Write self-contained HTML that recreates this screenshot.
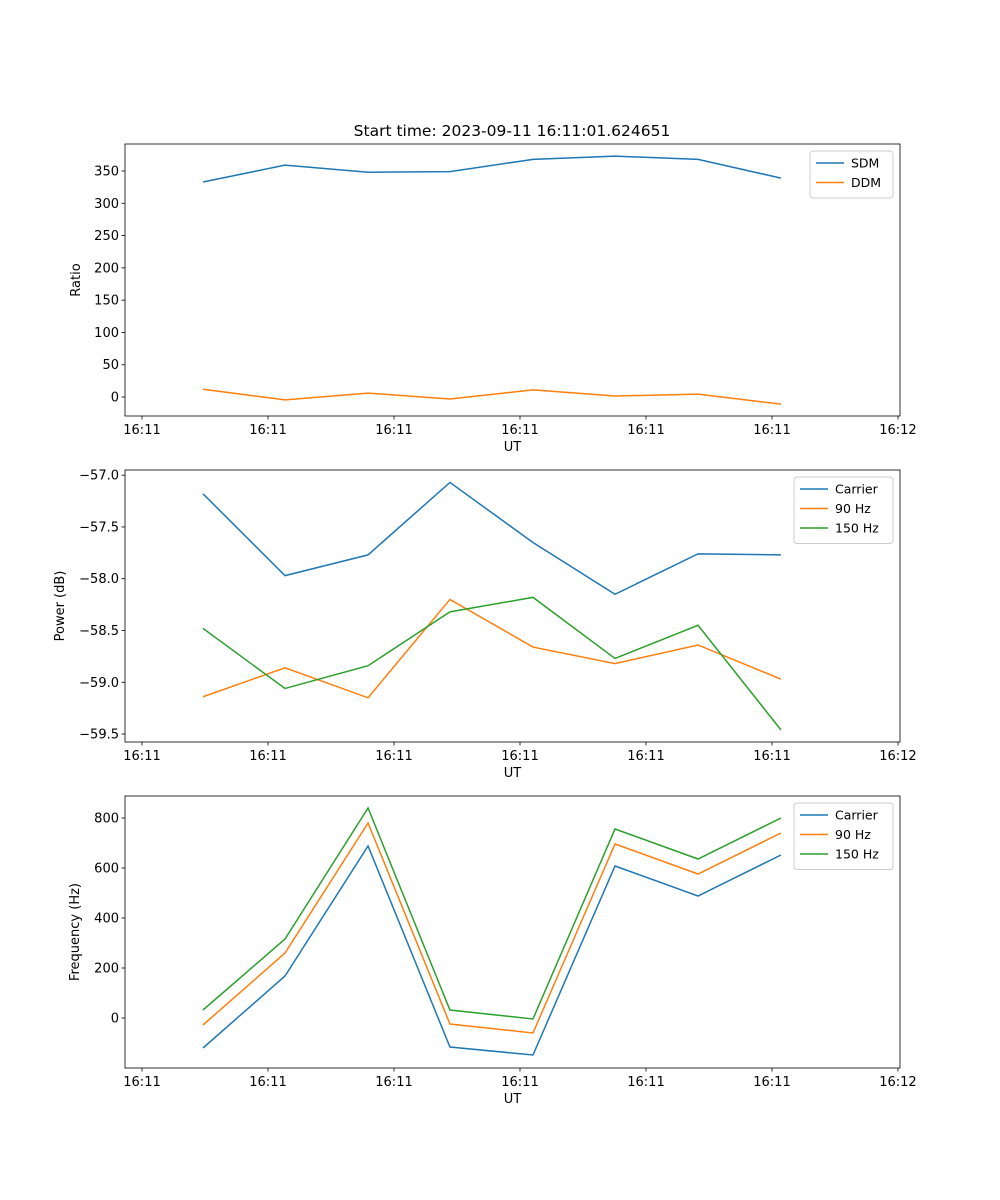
<!DOCTYPE html>
<html><head><meta charset="utf-8"><style>
body{margin:0;background:#fff;}
svg{display:block;font-family:"DejaVu Sans","Liberation Sans",sans-serif;}
</style></head><body>
<svg id="fig" width="1000" height="1200" xmlns="http://www.w3.org/2000/svg">
<text x="512" y="136" text-anchor="middle" font-size="15.5">Start time: 2023-09-11 16:11:01.624651</text>
</svg>
<script>
const times=[4.84,11.35,17.94,24.44,31.03,37.54,44.13,50.71];
const xTickVals=[0,10,20,30,40,50,60];
const xTickLabels=["16:11","16:11","16:11","16:11","16:11","16:11","16:12"];
const sdm=[333,359,348,349,368,373,368,339];
const ddm=[12,-4.5,6,-3,11,1.5,4.5,-11];
const pwrCarrier=[-57.18,-57.97,-57.77,-57.07,-57.65,-58.15,-57.76,-57.77];
const pwr90=[-59.14,-58.86,-59.15,-58.20,-58.66,-58.82,-58.64,-58.97];
const pwr150=[-58.48,-59.06,-58.84,-58.32,-58.18,-58.77,-58.45,-59.46];
const frqCarrier=[-120,168,688,-116,-148,608,488,652];
const frq90=[-28,260,780,-24,-60,696,576,740];
const frq150=[32,316,840,32,-4,756,636,800];
const ratioTicks=[0,50,100,150,200,250,300,350];
const powerTicks=[-59.5,-59.0,-58.5,-58.0,-57.5,-57.0];
const powerTickLabels=["\u221259.5","\u221259.0","\u221258.5","\u221258.0","\u221257.5","\u221257.0"];
const freqTicks=[0,200,400,600,800];

const NS="http://www.w3.org/2000/svg";
const svg=document.getElementById('fig');
const C=["#1f77b4","#ff7f0e","#2ca02c"];
function mk(tag,attrs,parent){const e=document.createElementNS(NS,tag);for(const k in attrs)e.setAttribute(k,attrs[k]);(parent||svg).appendChild(e);return e;}
const L=125,R=900,xMin=-1.35,xMax=60.16;
const xs=t=>L+(t-xMin)/(xMax-xMin)*(R-L);

function panel(name,top,bot,yMin,yMax,yTicks,yLabels,ylab,ylabX,series,names,legW){
  const g=mk('g',{});
  
  
  const ys=v=>bot-(v-yMin)/(yMax-yMin)*(bot-top);
  series.forEach((s,i)=>{
    const p=mk('polyline',{points:s.map((v,j)=>xs(times[j])+','+ys(v)).join(' '),fill:'none',stroke:C[i],'stroke-width':1.5},g);
    
    
  });
  const fr=mk('rect',{x:L,y:top,width:R-L,height:bot-top,fill:'none',stroke:'#000','stroke-width':0.8},g);
  
  
  xTickVals.forEach((t,i)=>{
    const x=xs(t);
    mk('line',{x1:x,x2:x,y1:bot,y2:bot+3.5,stroke:'#000','stroke-width':0.8},g);
    const tx=mk('text',{x:x,y:bot+18,'text-anchor':'middle','font-size':13},g);
    tx.textContent=xTickLabels[i];
    
    
  });
  yTicks.forEach((v,i)=>{
    const y=ys(v);
    mk('line',{x1:L,x2:L-3.5,y1:y,y2:y,stroke:'#000','stroke-width':0.8},g);
    const tx=mk('text',{x:L-6,y:y+4.5,'text-anchor':'end','font-size':13},g);
    tx.textContent=yLabels?yLabels[i]:String(v);
    
    
  });
  const xl=mk('text',{x:(L+R)/2,y:bot+35,'text-anchor':'middle','font-size':13},g);
  xl.textContent='UT';
  
  
  const yc=(top+bot)/2;
  const yl=mk('text',{x:ylabX,y:yc,'text-anchor':'middle','font-size':13,transform:'rotate(-90 '+ylabX+' '+yc+')'},g);
  yl.textContent=ylab;
  
  
  const lx=R-7-legW,ly=top+7,lh=8+names.length*19.5;
  const lg=mk('g',{},g);
  
  
  mk('rect',{x:lx,y:ly,width:legW,height:lh,rx:3,fill:'#fff','fill-opacity':0.8,stroke:'#ccc'},lg);
  names.forEach((n,i)=>{
    const yy=ly+12+i*19.5;
    const e=mk('g',{},lg);
    
    
    mk('line',{x1:lx+6,x2:lx+34,y1:yy,y2:yy,stroke:C[i],'stroke-width':1.5},e);
    const t=mk('text',{x:lx+41,y:yy+4.5,'font-size':12.5},e);
    t.textContent=n;
  });
}
panel('ratio',144,416,-29.4,391.8,ratioTicks,null,'Ratio',80,[sdm,ddm],['SDM','DDM'],83);
panel('power',470,742,-59.577,-56.95,powerTicks,powerTickLabels,'Power (dB)',64,[pwrCarrier,pwr90,pwr150],['Carrier','90 Hz','150 Hz'],99);
panel('frequency',796,1068,-200,888,freqTicks,null,'Frequency (Hz)',79,[frqCarrier,frq90,frq150],['Carrier','90 Hz','150 Hz'],99);
</script>
</body></html>
